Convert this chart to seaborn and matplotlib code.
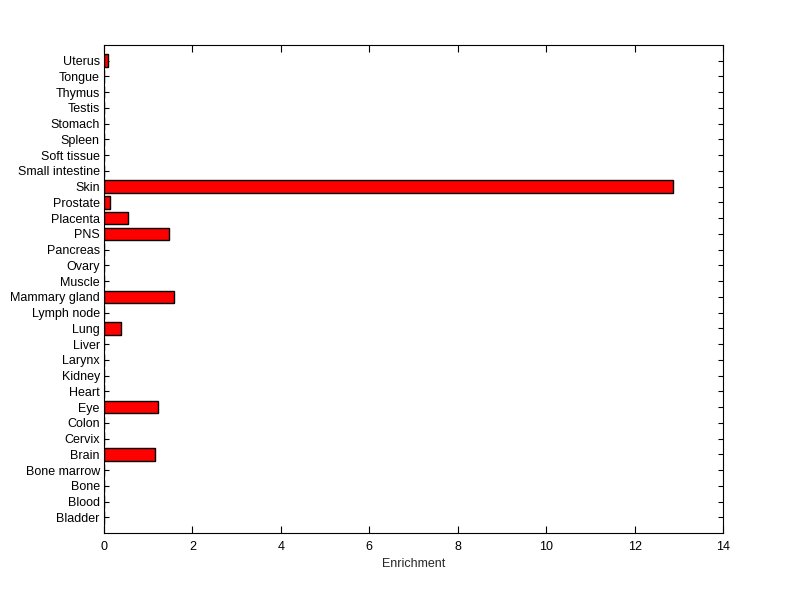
import numpy as np
import pandas as pd
import matplotlib
matplotlib.use("Agg")
import matplotlib.pyplot as plt
import seaborn as sns

# tissues, bottom to top as in the reference
tissues = ["Bladder", "Blood", "Bone", "Bone marrow", "Brain", "Cervix", "Colon",
           "Eye", "Heart", "Kidney", "Larynx", "Liver", "Lung", "Lymph node",
           "Mammary gland", "Muscle", "Ovary", "Pancreas", "PNS", "Placenta",
           "Prostate", "Skin", "Small intestine", "Soft tissue", "Spleen",
           "Stomach", "Testis", "Thymus", "Tongue", "Uterus"]
enrichment = [0, 0, 0, 0, 1.15, 0, 0,
              1.21, 0, 0, 0, 0, 0.39, 0,
              1.59, 0, 0, 0, 1.48, 0.55,
              0.14, 12.86, 0, 0, 0,
              0, 0, 0, 0, 0.10]
x_ticks = [0, 2, 4, 6, 8, 10, 12, 14]

df = pd.DataFrame({"Tissue": tissues, "Enrichment": enrichment})
order = tissues[::-1]  # seaborn draws first category at top

sns.set_theme(style="white")
plt.rcParams['font.family'] = ['Liberation Sans', 'DejaVu Sans']

fig = plt.figure(figsize=(8, 5.99), dpi=100)
ax = fig.add_axes([0.13, 0.110, 0.774, 0.815])

sns.barplot(data=df, x="Enrichment", y="Tissue", order=order, orient="h",
            color="#ff0000", edgecolor="black", linewidth=1, width=0.8,
            saturation=1, ax=ax)

ax.set_xlim(0, 14)
ax.set_ylim(len(tissues), -1)
ax.set_xticks(x_ticks)
ax.set_xlabel("Enrichment", fontsize=9, labelpad=3)
ax.set_ylabel("")

for s in ax.spines.values():
    s.set_visible(True)
    s.set_color("black")
    s.set_linewidth(0.8)

ax.tick_params(axis="x", direction="in", length=5, width=0.8, top=True,
               bottom=True, labelsize=9, pad=6, colors="black")
ax.tick_params(axis="y", direction="in", length=3.6, width=0.8, left=True,
               right=True, labelsize=9, pad=3, colors="black")

fig.savefig("out.png", dpi=100, facecolor="white")
